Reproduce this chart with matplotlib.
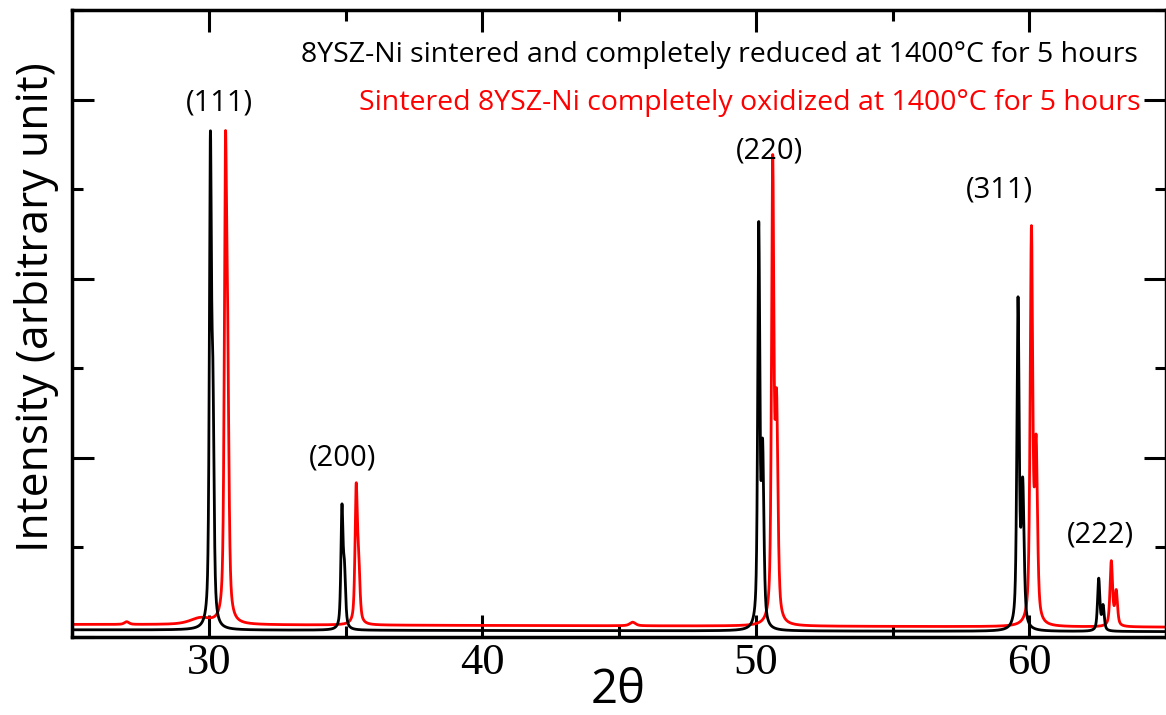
import numpy as np
import matplotlib.pyplot as plt
from matplotlib.ticker import MultipleLocator

# peak list: 2theta position, height, FWHM (deg)
reduced_pos = [30.06, 30.15, 34.87, 34.96, 50.11, 50.25, 59.59, 59.76, 62.54, 62.70]
reduced_amp = [5.15, 2.30, 1.30, 0.60, 4.41, 1.90, 3.63, 1.55, 0.58, 0.27]
reduced_fwhm = [0.09, 0.10, 0.09, 0.10, 0.09, 0.11, 0.10, 0.12, 0.10, 0.10]
reduced_base = [0.08, 0.06]  # at 25 and 65 deg

oxidized_pos = [30.61, 30.69, 35.39, 35.48, 50.62, 50.76, 60.08, 60.25, 63.00, 63.18]
oxidized_amp = [4.75, 2.50, 1.45, 0.60, 5.03, 2.30, 4.35, 1.90, 0.72, 0.38]
oxidized_fwhm = [0.10, 0.11, 0.10, 0.11, 0.10, 0.12, 0.11, 0.12, 0.11, 0.11]
oxidized_base = [0.14, 0.11]
# weak broad humps in the oxidized scan
oxidized_hump_pos = [29.7, 45.5, 27.0]
oxidized_hump_amp = [0.07, 0.04, 0.03]
oxidized_hump_fwhm = [0.9, 0.25, 0.2]

reduced_label = '8YSZ-Ni sintered and completely reduced at 1400°C for 5 hours'
oxidized_label = 'Sintered 8YSZ-Ni completely oxidized at 1400°C for 5 hours'

hkl = ['(111)', '(200)', '(220)', '(311)', '(222)']
hkl_x = [30.4, 34.9, 50.5, 58.9, 62.6]
hkl_y = [5.96, 2.0, 5.43, 4.99, 1.14]


def pvoigt(x, x0, a, w, eta=0.6):
    g = np.exp(-4 * np.log(2) * (x - x0) ** 2 / w ** 2)
    l = 1 / (1 + 4 * (x - x0) ** 2 / w ** 2)
    return a * (eta * l + (1 - eta) * g)


def pattern(x, pos, amp, fwhm, base):
    y = base[0] + (base[1] - base[0]) * (x - x[0]) / (x[-1] - x[0])
    for p, a, w in zip(pos, amp, fwhm):
        y = y + pvoigt(x, p, a, w)
    return y


tt = np.arange(25, 65.001, 0.005)
y_red = pattern(tt, reduced_pos, reduced_amp, reduced_fwhm, reduced_base)
y_ox = pattern(tt, oxidized_pos, oxidized_amp, oxidized_fwhm, oxidized_base)
y_ox = y_ox + pattern(tt, oxidized_hump_pos, oxidized_hump_amp, oxidized_hump_fwhm, [0, 0])

fig = plt.figure(figsize=(11.66, 7.15), dpi=100)
ax = fig.add_axes([72 / 1166, 1 - 637 / 715, 1094 / 1166, 627 / 715])

ax.plot(tt, y_ox, color='#ff0000', lw=2.0)
ax.plot(tt, y_red, color='black', lw=2.0)

ax.set_xlim(25, 65)
ax.set_ylim(0, 7)

for s in ax.spines.values():
    s.set_linewidth(2.5)

ax.xaxis.set_major_locator(MultipleLocator(10))
ax.xaxis.set_minor_locator(MultipleLocator(5))
ax.yaxis.set_major_locator(MultipleLocator(2))
ax.yaxis.set_minor_locator(MultipleLocator(1))
ax.tick_params(which='both', direction='in', top=True, right=True, width=2.2)
ax.tick_params(which='major', length=16)
ax.tick_params(which='minor', length=8)
ax.tick_params(axis='y', labelleft=False)
ax.tick_params(axis='x', pad=4)
for t in ax.get_xticklabels():
    t.set_fontfamily('Liberation Serif')
    t.set_fontsize(32)

sans = 'Open Sans'
ax.text(0.974, 0.928, reduced_label, transform=ax.transAxes, ha='right', va='center',
        fontsize=20.5, family=sans, color='black')
ax.text(0.977, 0.852, oxidized_label, transform=ax.transAxes, ha='right', va='center',
        fontsize=20.5, family=sans, color='#ff0000')

for lab, x, y in zip(hkl, hkl_x, hkl_y):
    ax.text(x, y, lab, ha='center', va='center', fontsize=21, family=sans)

fig.text(37 / 1166, 1 - 307 / 715, 'Intensity (arbitrary unit)', rotation=90,
         ha='center', va='center', fontsize=32, family=sans)
fig.text(618 / 1166, 1 - 690 / 715, '2θ', ha='center', va='center', fontsize=34, family=sans)

fig.savefig('out.png', dpi=100)
